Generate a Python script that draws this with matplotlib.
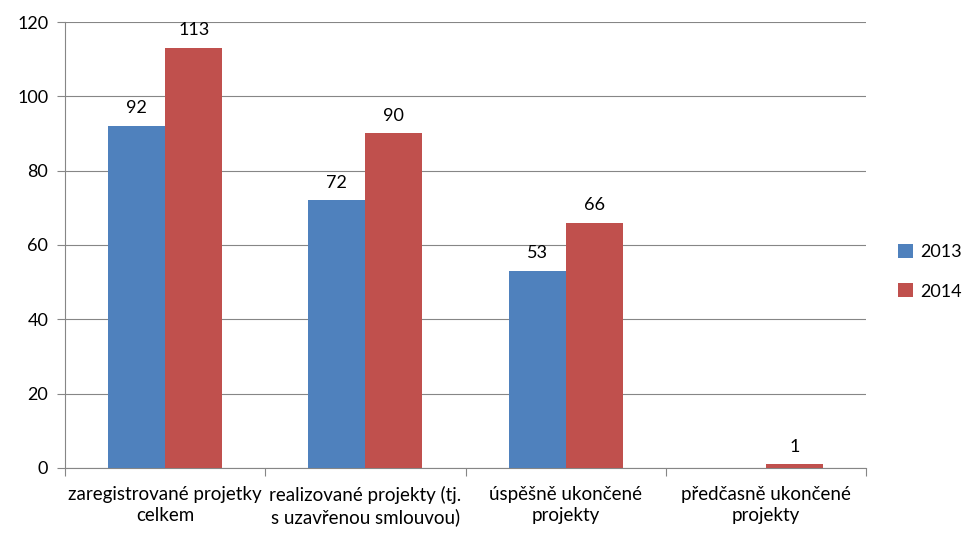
import matplotlib
matplotlib.use('Agg')
import matplotlib.pyplot as plt
import numpy as np

plt.rcParams['font.family'] = ['Lato', 'DejaVu Sans']

categories = ['zaregistrované projetky\ncelkem',
              'realizované projekty (tj.\ns uzavřenou smlouvou)',
              'úspěšně ukončené\nprojekty',
              'předčasně ukončené\nprojekty']
series_names = ['2013', '2014']
values_2013 = [92, 72, 53, 0]
values_2014 = [113, 90, 66, 1]
colors = ['#4F81BD', '#C0504D']

fig = plt.figure(figsize=(9.8, 5.46), dpi=100)
ax = fig.add_axes([0.0663, 0.1429, 0.8174, 0.8168])

x = np.arange(len(categories))
w = 0.285
for i, (vals, name) in enumerate(zip([values_2013, values_2014], series_names)):
    pos = x + (i - 0.5) * w
    bars = ax.bar(pos, vals, width=w, color=colors[i], label=name, zorder=3)
    for b, v in zip(bars, vals):
        if v > 0:
            ax.annotate(str(v), (b.get_x() + b.get_width() / 2, v),
                        xytext=(0, 7), textcoords='offset points',
                        ha='center', va='bottom', fontsize=13)

ax.set_xlim(-0.5, len(categories) - 0.5)
ax.set_ylim(0, 120)
ax.set_yticks(range(0, 121, 20))
ax.yaxis.grid(True, color='#868686', linewidth=0.8, zorder=0)
ax.tick_params(axis='y', length=6, color='#868686', labelsize=13, pad=6)

ax.set_xticks(np.arange(-0.5, len(categories), 1))
ax.set_xticklabels([])
ax.tick_params(axis='x', which='major', length=6, color='#868686')
ax.set_xticks(x, minor=True)
ax.set_xticklabels(categories, minor=True, fontsize=13.5, linespacing=1.3)
ax.tick_params(axis='x', which='minor', length=0, pad=13)

for s in ['top', 'right']:
    ax.spines[s].set_visible(False)
for s in ['left', 'bottom']:
    ax.spines[s].set_color('#868686')

ax.legend(loc='center left', bbox_to_anchor=(1.02, 0.44), frameon=False,
          fontsize=13, handlelength=0.8, handleheight=0.8, labelspacing=1.3,
          handletextpad=0.4)

fig.savefig('out.png', dpi=100)
